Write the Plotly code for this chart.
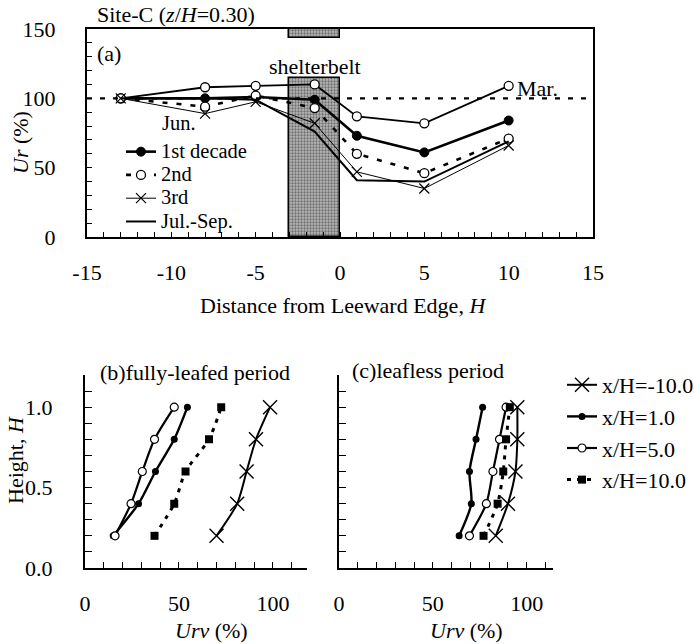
import plotly.graph_objects as go

# ---------------- data: panel (a) ----------------
dist = [-13, -8, -5, -1.5, 1, 5, 10]
ur_mar = [100, 108, 109, 110, 87, 82, 109]
ur_jun1 = [100, 100, 101, 99, 73, 61, 84]
ur_jun2 = [100, 94, 102, 93, 60, 46, 71]
ur_jun3 = [100, 89, 97.5, 82, 47, 35, 66]
ur_julsep = [100, 100, 99, 76, 41, 40, 69]
belt_x = [-1.5]
belt_width = 3
belt_top = 114.5
belt_cap = [143.5, 150]
a_xticks = [-15, -10, -5, 0, 5, 10, 15]
a_xlabels = ["-15", "-10", "-5", "0", "5", "10", "15"]

# ---------------- data: panels (b), (c) ----------------
heights = [0.2, 0.4, 0.6, 0.8, 1.0]
b_m10 = [70, 81, 86, 91, 98.5]
b_p1 = [15, 28.5, 37.5, 47.5, 54.5]
b_p5 = [16, 24.5, 30.5, 37, 47.5]
b_p10 = [37, 47.5, 53.5, 66, 72.5]
c_m10 = [83.5, 90, 94, 95, 95]
c_p1 = [64, 70.5, 69.5, 73, 76.5]
c_p5 = [69.5, 78.5, 82, 85.5, 89]
c_p10 = [77, 84.5, 87.5, 89, 91]

FONT = "Liberation Serif"
FS = 22
fig = go.Figure()

# shelterbelt band (stippled)
pat = dict(shape=".", fgcolor="#222", bgcolor="#b8b8b8", size=3, solidity=0.45)
fig.add_trace(go.Bar(x=belt_x, y=[belt_top], base=[0], width=belt_width,
                     marker=dict(color="#b8b8b8", pattern=pat, line=dict(color="black", width=1.5)),
                     showlegend=False, hoverinfo="skip", xaxis="x", yaxis="y"))
fig.add_trace(go.Bar(x=belt_x, y=[belt_cap[1] - belt_cap[0]], base=[belt_cap[0]], width=belt_width,
                     marker=dict(color="#b8b8b8", pattern=pat, line=dict(color="black", width=1.5)),
                     showlegend=False, hoverinfo="skip", xaxis="x", yaxis="y"))

open_c = dict(symbol="circle", size=9, color="white", line=dict(color="black", width=1.3))
fill_c = dict(symbol="circle", size=9, color="black", line=dict(color="black", width=1))

def big(t):
    return '<span style="font-size:20.5px">' + t + '</span>'

fig.add_trace(go.Scatter(x=dist, y=ur_mar, mode="lines+markers", name="Mar.",
                         line=dict(color="black", width=1.8), marker=open_c,
                         showlegend=False, xaxis="x", yaxis="y"))
fig.add_trace(go.Scatter(x=dist, y=ur_jun1, mode="lines+markers", name=big("1st decade"),
                         line=dict(color="black", width=2.6), marker=fill_c,
                         legend="legend", xaxis="x", yaxis="y"))
fig.add_trace(go.Scatter(x=dist, y=ur_jun2, mode="lines+markers", name=big("2nd"),
                         line=dict(color="black", width=2.6, dash="5px,9px"), marker=open_c,
                         legend="legend", xaxis="x", yaxis="y"))
fig.add_trace(go.Scatter(x=dist, y=ur_jun3, mode="lines+markers", name=big("3rd"),
                         line=dict(color="black", width=1),
                         marker=dict(symbol="x-thin", size=10, line=dict(color="black", width=1.2)),
                         legend="legend", xaxis="x", yaxis="y"))
fig.add_trace(go.Scatter(x=dist, y=ur_julsep, mode="lines", name=big("Jul.-Sep."),
                         line=dict(color="black", width=2),
                         legend="legend", xaxis="x", yaxis="y"))

# ---------------- panels (b) and (c) ----------------
sp = dict(shape="spline", smoothing=0.7)
def prof(xv, ax, ay, name, style, show):
    if style == "x":
        ln = dict(color="black", width=2, **sp)
        mk = dict(symbol="x-thin", size=14, line=dict(color="black", width=1.4))
    elif style == "fill":
        ln = dict(color="black", width=2.4, **sp)
        mk = dict(symbol="circle", size=7, color="black")
    elif style == "open":
        ln = dict(color="black", width=2.2, **sp)
        mk = dict(symbol="circle", size=8, color="white", line=dict(color="black", width=1.2))
    else:
        ln = dict(color="black", width=3, dash="4px,6px", **sp)
        mk = dict(symbol="square", size=8, color="black")
    fig.add_trace(go.Scatter(x=xv, y=heights, mode="lines+markers", name=name,
                             line=ln, marker=mk, showlegend=show, legend="legend2",
                             legendgroup=name, xaxis=ax, yaxis=ay))

names = ["x/H=-10.0", "x/H=1.0", "x/H=5.0", "x/H=10.0"]
styles = ["x", "fill", "open", "sq"]
for xv, nm, st in zip([b_m10, b_p1, b_p5, b_p10], names, styles):
    prof(xv, "x2", "y2", nm, st, True)
for xv, nm, st in zip([c_m10, c_p1, c_p5, c_p10], names, styles):
    prof(xv, "x3", "y3", nm, st, False)

W, H = 694, 644
def dx(a, b): return [a / W, b / W]
def dy(top, bot): return [1 - bot / H, 1 - top / H]

tickfont = dict(family=FONT, size=FS, color="black")
common = dict(showgrid=False, zeroline=False, showline=True, linecolor="black", automargin=False,
              ticks="inside", tickcolor="black", tickfont=tickfont)

fig.update_layout(
    width=W, height=H, margin=dict(l=0, r=0, t=0, b=0, pad=0, autoexpand=False),
    paper_bgcolor="white", plot_bgcolor="white",
    font=dict(family=FONT, size=FS, color="black"),
    barmode="overlay", bargap=0,
    xaxis=dict(domain=dx(87, 593), range=[-15, 15], tickvals=a_xticks, ticktext=a_xlabels,
               linewidth=2, ticklen=5, tickwidth=1.3, mirror=True, ticklabelstandoff=15,
               minor=dict(dtick=1, ticklen=5, tickcolor="black", tickwidth=1.3, ticks="inside"),
               anchor="y", **common),
    yaxis=dict(domain=dy(29, 237), range=[0, 150], dtick=50, linewidth=2,
               ticklen=5, tickwidth=1.3, mirror=True, ticklabelstandoff=25,
               minor=dict(dtick=10, ticklen=5, tickcolor="black", tickwidth=1.3, ticks="inside"),
               anchor="x", **common),
    xaxis2=dict(domain=dx(85, 306.7), range=[0, 118], dtick=50, linewidth=2.2,
                ticklen=6, tickwidth=1.3, ticklabelstandoff=14,
                minor=dict(dtick=10, ticklen=6, tickcolor="black", tickwidth=1.3, ticks="inside"),
                anchor="y2", **common),
    yaxis2=dict(domain=dy(375, 568), range=[0, 1.2], dtick=0.5, tickformat=".1f", linewidth=2.2,
                ticklen=7, tickwidth=1.3, ticklabelstandoff=26,
                minor=dict(dtick=0.1, ticklen=7, tickcolor="black", tickwidth=1.3, ticks="inside"),
                anchor="x2", **common),
    xaxis3=dict(domain=dx(339, 553), range=[0, 114], dtick=50, linewidth=2.2,
                ticklen=6, tickwidth=1.3, ticklabelstandoff=14,
                minor=dict(dtick=10, ticklen=6, tickcolor="black", tickwidth=1.3, ticks="inside"),
                anchor="y3", **common),
    yaxis3=dict(domain=dy(375, 568), range=[0, 1.2], dtick=0.5, showticklabels=False, linewidth=2.2,
                ticklen=7, tickwidth=1.3,
                minor=dict(dtick=0.1, ticklen=7, tickcolor="black", tickwidth=1.3, ticks="inside"),
                anchor="x3", **common),
    legend=dict(x=121 / W, y=1 - 135 / H, xanchor="left", yanchor="top",
                bgcolor="rgba(0,0,0,0)", font=dict(family=FONT, size=15.6, color="black"),
                tracegroupgap=0, itemwidth=30),
    legend2=dict(x=562 / W, y=1 - 364 / H, xanchor="left", yanchor="top",
                 bgcolor="rgba(0,0,0,0)", font=dict(family=FONT, size=FS, color="black"),
                 traceorder="grouped", tracegroupgap=0, itemwidth=30),
)

# reference line at 100 %
fig.add_shape(type="line", xref="x", yref="y", x0=-15, x1=15, y0=100, y1=100,
              line=dict(color="black", width=2.2, dash="5px,8px"))

def ann(text, x, y, size=FS, xanchor="center", yanchor="middle", angle=0):
    fig.add_annotation(text=text, x=x / W, y=1 - y / H, xref="paper", yref="paper",
                       showarrow=False, xanchor=xanchor, yanchor=yanchor, textangle=angle,
                       font=dict(family=FONT, size=size, color="black"))

ann("Site-C (<i>z</i>/<i>H</i>=0.30)", 95, 15, xanchor="left")
ann("(a)", 95, 54, xanchor="left")
ann("shelterbelt", 315, 66)
ann("Mar.", 515, 88, xanchor="left")
ann("Jun.", 160, 123, 20.5, xanchor="left")
ann("<i>Ur</i> (%)", 20, 143, angle=-90)
ann("Distance from Leeward Edge, <i>H</i>", 343, 306)
ann("(b)fully-leafed period", 98, 372, xanchor="left")
ann("(c)leafless period", 350, 370, xanchor="left")
ann("Height, <i>H</i>", 15, 460, angle=-90)
ann("<i>Urv</i> (%)", 212, 630)
ann("<i>Urv</i> (%)", 466, 630)

fig.write_html("out.html")
